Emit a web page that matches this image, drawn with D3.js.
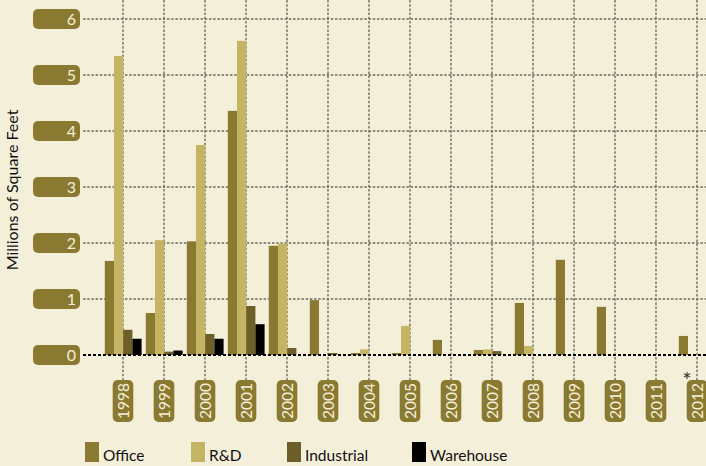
<!DOCTYPE html>
<html><head><meta charset="utf-8">
<script src="https://cdn.jsdelivr.net/npm/d3@7/dist/d3.min.js"></script>
<style>
html,body{margin:0;padding:0;background:#f4efd9;}
svg{display:block;font-family:Lato, "Open Sans", sans-serif;}
</style></head>
<body><svg id="c" width="706" height="466"></svg>
<script>
const years = ["1998","1999","2000","2001","2002","2003","2004","2005","2006","2007","2008","2009","2010","2011","2012"];
const seriesNames = ["Office","R&D","Industrial","Warehouse"];
const office     = [1.68,0.75,2.03,4.36,1.95,0.98,0.035,0.035,0.27,0.09,0.93,1.70,0.86,0,0.34];
const rnd        = [5.34,2.05,3.75,5.61,1.99,0,0.10,0.52,0,0.10,0.16,0,0,0,0];
const industrial = [0.45,0.06,0.375,0.875,0.125,0.035,0,0,0,0.07,0,0,0,0,0];
const warehouse  = [0.29,0.08,0.29,0.55,0,0,0,0,0,0,0,0,0,0,0];
const yTicks = [0,1,2,3,4,5,6];
const colors = ["#8a7a31","#c4b464","#6e5e27","#000000"];
const seriesValues = [office, rnd, industrial, warehouse];

const svg = d3.select("#c");
const y = d3.scaleLinear().domain([0,6]).range([355,19]);
const x = d3.scaleBand().domain(years).range([102.5,717.5]).padding(0);
const xs = d3.scaleBand().domain(seriesNames).range([2.3,39.1]).padding(0);
const pillCol = "#8a7a31";
const txtCol = "#f4efd9";

// horizontal gridlines
svg.append("g").selectAll("line").data(yTicks.filter(d=>d>0)).join("line")
  .attr("x1",83).attr("x2",706).attr("y1",d=>y(d)).attr("y2",d=>y(d))
  .attr("stroke","#6f6b60").attr("stroke-width",1.4).attr("stroke-dasharray","2.5,1.7");

// vertical gridlines
svg.append("g").selectAll("line").data(years).join("line")
  .attr("x1",d=>x(d)+x.bandwidth()/2).attr("x2",d=>x(d)+x.bandwidth()/2)
  .attr("y1",0).attr("y2",380)
  .attr("stroke","#6f6b60").attr("stroke-width",1.4).attr("stroke-dasharray","2.5,1.7");

// bars
const gBars = svg.append("g");
years.forEach((yr,i)=>{
  seriesNames.forEach((s,j)=>{
    const v = seriesValues[j][i];
    if (v>0) gBars.append("rect")
      .attr("x",x(yr)+xs(s)).attr("width",xs.bandwidth())
      .attr("y",y(v)).attr("height",y(0)-y(v))
      .attr("fill",colors[j]);
  });
});

// zero line
svg.append("line").attr("x1",83).attr("x2",706).attr("y1",y(0)).attr("y2",y(0))
  .attr("stroke","#000").attr("stroke-width",2).attr("stroke-dasharray","3,2");

// y tick pills
const yt = svg.append("g").selectAll("g").data(yTicks).join("g")
  .attr("transform",d=>`translate(0,${y(d)})`);
yt.append("rect").attr("x",33).attr("y",-10).attr("width",47).attr("height",20).attr("rx",5)
  .attr("fill",pillCol);
yt.append("text").attr("x",76).attr("y",0).attr("dy","0.36em").attr("text-anchor","end")
  .attr("fill",txtCol).attr("font-size",16).text(d=>d);

// x tick pills
const xt = svg.append("g").selectAll("g").data(years).join("g")
  .attr("transform",d=>`translate(${x(d)+x.bandwidth()/2},401)`);
xt.append("rect").attr("x",-10.3).attr("y",-21).attr("width",20.6).attr("height",42).attr("rx",5)
  .attr("fill",pillCol);
xt.append("text").attr("transform","rotate(-90)").attr("text-anchor","middle").attr("dy","0.36em")
  .attr("fill",txtCol).attr("font-size",15.5).text(d=>d);

// asterisk
svg.append("text").attr("x",687).attr("y",388).attr("text-anchor","middle")
  .attr("font-size",22).attr("fill","#333").text("*");

// y title
svg.append("text").attr("transform","translate(18,190) rotate(-90)").attr("text-anchor","middle")
  .attr("font-size",16).attr("fill","#111").text("Millions of Square Feet");

// legend
const legX = [85,191,287,412];
const lg = svg.append("g").selectAll("g").data(seriesNames).join("g")
  .attr("transform",(d,i)=>`translate(${legX[i]},442)`);
lg.append("rect").attr("width",14).attr("height",20).attr("fill",(d,i)=>colors[i]);
lg.append("text").attr("x",18).attr("y",19).attr("font-size",15.5).attr("fill","#111").text(d=>d);
</script></body></html>
